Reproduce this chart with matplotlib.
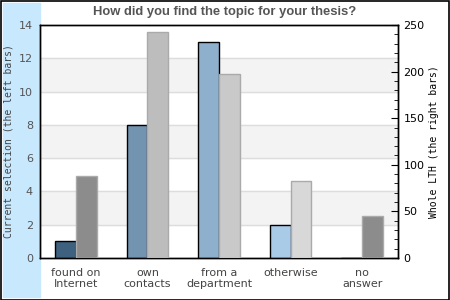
import matplotlib.pyplot as plt
from matplotlib.patches import Rectangle
import numpy as np

categories = ['found on\nInternet', 'own\ncontacts', 'from a\ndepartment', 'otherwise', 'no\nanswer']
current = [1, 8, 13, 2, 0]
whole = [88, 243, 197, 83, 45]

left_colors = ['#3f6180', '#7394b0', '#8fb0cc', '#aacbe7', '#c6dff0']
right_colors = ['#8c8c8c', '#bdbdbd', '#c9c9c9', '#d8d8d8', '#8c8c8c']

fig = plt.figure(figsize=(4.5, 3), dpi=100)

# light blue strip on the left and outer frame
fig.patches.append(Rectangle((3 / 450, 3 / 300), 37 / 450, 294 / 300,
                             transform=fig.transFigure, color='#c8e8fe', zorder=-5))
fig.patches.append(Rectangle((0.5 / 450, 0.5 / 300), 448.5 / 450, 298.5 / 300,
                             transform=fig.transFigure, fill=False,
                             edgecolor='black', lw=1.2, zorder=5))

ax = fig.add_axes([40 / 450, 42 / 300, 358 / 450, 233 / 300])
ax2 = ax.twinx()

x = np.arange(len(categories))
w = 0.29

# alternating bands
for lo in (2, 6, 10):
    ax.axhspan(lo, lo + 2, color='#f3f3f3', zorder=0)
for g in range(2, 14, 2):
    ax.axhline(g, color='#dddddd', lw=1, zorder=1)

ax.bar(x - w / 2, current, width=w, color=left_colors, edgecolor='black',
       lw=1, zorder=3)
ax2.bar(x + w / 2, whole, width=w, color=right_colors, edgecolor='#aaaaaa',
        lw=1, zorder=3)

ax.set_xlim(-0.5, 4.5)
ax.set_ylim(0, 14)
ax2.set_ylim(0, 250)
ax.set_yticks(range(0, 15, 2))
ax2.set_yticks(range(0, 251, 50))
ax2.set_yticks(range(0, 251, 10), minor=True)

ax.set_xticks(x)
ax.set_xticklabels(categories, fontsize=8, color='#444444', linespacing=1.15,
                   va='top')
ax.tick_params(axis='x', length=0, pad=7)
ax.tick_params(axis='y', length=0, labelsize=8, labelcolor='#555555', pad=5)
ax2.tick_params(axis='y', which='major', direction='in', length=5,
                labelsize=8, pad=4)
ax2.tick_params(axis='y', which='minor', direction='in', length=3)

ax.set_ylabel('Current selection (the left bars)', family='DejaVu Sans Mono',
              fontsize=7, color='#444444')
ax.yaxis.set_label_coords(-26 / 358, 0.5)
ax2.set_ylabel('Whole LTH (the right bars)', family='DejaVu Sans Mono',
               fontsize=7, color='black')
ax2.yaxis.set_label_coords(1 + 31 / 358, 0.5)

for a in (ax, ax2):
    for s in a.spines.values():
        s.set_linewidth(1)

fig.text(0.5, 1 - 12 / 300, 'How did you find the topic for your thesis?',
         ha='center', va='center', fontsize=9.4, fontweight='bold',
         family='Liberation Sans', color='#555555')

fig.savefig('out.png', dpi=100)
